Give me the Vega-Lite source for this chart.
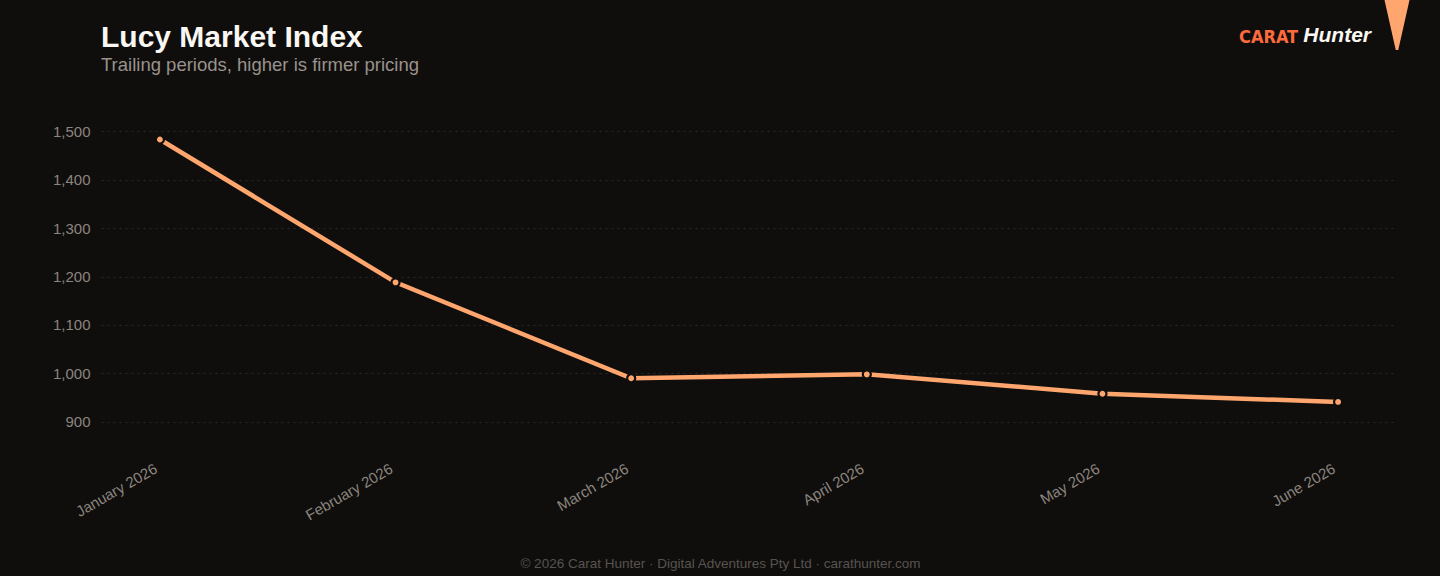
{
  "$schema": "https://vega.github.io/schema/vega-lite/v6.json",
  "description": "Lucy Market Index, trailing monthly periods",
  "width": 1296,
  "height": 322,
  "autosize": {"type": "none"},
  "padding": {"left": 101, "top": 124, "right": 43, "bottom": 130},
  "background": "#0f0e0d",
  "title": {
    "text": "Lucy Market Index",
    "subtitle": "Trailing periods, higher is firmer pricing",
    "anchor": "start",
    "frame": "group",
    "offset": -63,
    "font": "Liberation Sans",
    "fontSize": 30,
    "fontWeight": "bold",
    "color": "#fbf7f2",
    "subtitleFont": "Liberation Sans",
    "subtitleFontSize": 18.5,
    "subtitleColor": "#9a928b",
    "subtitlePadding": 3
  },
  "config": {
    "view": {"stroke": null},
    "font": "Liberation Sans",
    "axis": {
      "labelFont": "Liberation Sans",
      "labelFontSize": 15,
      "labelColor": "#8c857e",
      "domain": false,
      "ticks": false,
      "gridColor": "#2b2826",
      "gridDash": [2, 4],
      "gridWidth": 1
    }
  },
  "data": {
    "values": [
      {"period": "January 2026", "index": 1483},
      {"period": "February 2026", "index": 1188},
      {"period": "March 2026", "index": 990},
      {"period": "April 2026", "index": 998},
      {"period": "May 2026", "index": 958},
      {"period": "June 2026", "index": 941}
    ]
  },
  "encoding": {
    "x": {
      "field": "period",
      "type": "ordinal",
      "sort": null,
      "scale": {"type": "point", "padding": 0.25},
      "axis": {
        "labelAngle": -30,
        "labelPadding": 15,
        "labelOffset": -8,
        "grid": false,
        "title": "© 2026 Carat Hunter · Digital Adventures Pty Ltd · carathunter.com",
        "titleFont": "Liberation Sans",
        "titleFontSize": 13.5,
        "titleFontWeight": "normal",
        "titleColor": "#58534f",
        "titlePadding": 34,
        "titleX": 619,
        "titleAlign": "center"
      }
    },
    "y": {
      "field": "index",
      "type": "quantitative",
      "scale": {"domain": [850, 1515], "nice": false, "zero": false},
      "axis": {
        "values": [900, 1000, 1100, 1200, 1300, 1400, 1500],
        "format": ",d",
        "labelPadding": 11,
        "title": null
      }
    }
  },
  "layer": [
    {
      "mark": {"type": "line", "color": "#ffa66e", "strokeWidth": 4.5, "strokeCap": "round"}
    },
    {
      "mark": {"type": "point", "filled": true, "size": 65, "stroke": "#0f0e0d", "strokeWidth": 2.2, "opacity": 1},
      "encoding": {
        "color": {
          "datum": "Hunter",
          "type": "nominal",
          "scale": {"domain": ["Hunter"], "range": ["#ffa66e"]},
          "legend": {
            "orient": "none",
            "legendX": 1138,
            "legendY": -113,
            "direction": "horizontal",
            "title": "CARAT",
            "titleOrient": "left",
            "titleFont": "DejaVu Sans Condensed",
            "titleFontSize": 18,
            "titleFontWeight": "bold",
            "titleColor": "#ff6a3d",
            "titleBaseline": "line-top",
            "titleLineHeight": 14,
            "titlePadding": 73,
            "labelFont": "Liberation Sans",
            "labelFontSize": 21,
            "labelFontStyle": "italic",
            "labelFontWeight": "bold",
            "labelColor": "#fbf7f2",
            "labelAlign": "right",
            "labelOffset": -51,
            "labelLimit": 0,
            "symbolType": "M-0.5,-1.44L0.5,-1.44L0.05,0.56L-0.05,0.56Z",
            "symbolSize": 2500,
            "symbolStrokeWidth": 0,
            "symbolOpacity": 1
          }
        }
      }
    }
  ]
}
